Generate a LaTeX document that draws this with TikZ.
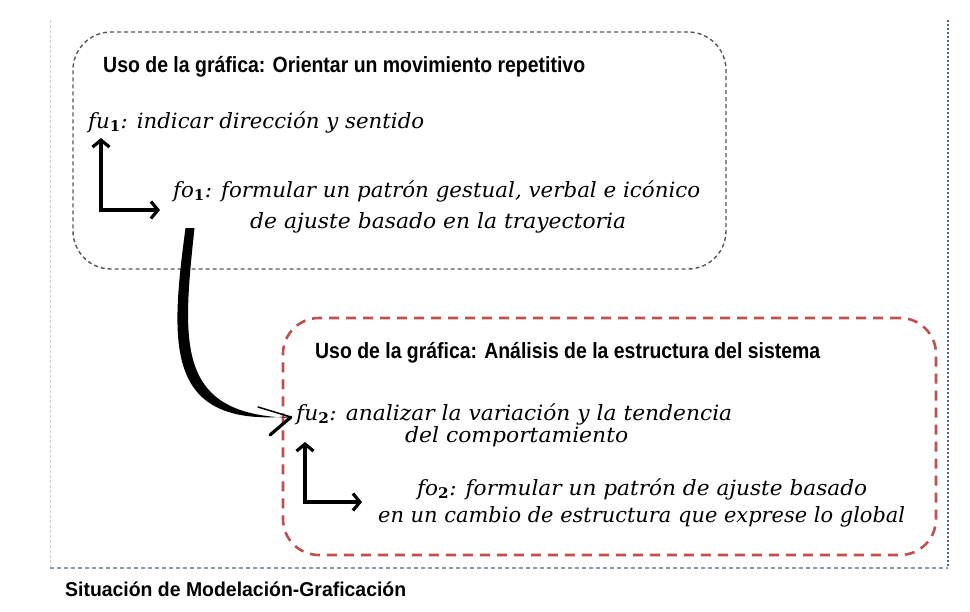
\documentclass[tikz,border=0pt]{standalone}
\usepackage{fontspec}
\setsansfont{Liberation Sans}
\newfontfamily\mfont{DejaVu Serif}
\usepackage{graphicx}
\usetikzlibrary{arrows.meta}
\definecolor{boxred}{RGB}{192,80,77}
\definecolor{boxgrey}{RGB}{85,85,85}
\definecolor{frameblue}{RGB}{70,100,145}
\definecolor{framegrey}{RGB}{140,155,175}
\definecolor{framelight}{RGB}{205,205,205}
\newcommand{\fsub}[1]{\textsubscript{\upshape\bfseries #1}}
\tikzset{
  usebox/.style={draw=boxgrey, line width=1.4pt, dash pattern=on 4pt off 3pt, rounded corners=38pt, minimum width=653pt, minimum height=237pt, inner sep=0pt},
  usebox2/.style={draw=boxred, line width=2.6pt, dash pattern=on 10pt off 7pt, rounded corners=36pt, minimum width=653pt, minimum height=237pt, inner sep=0pt},
  titletext/.style={anchor=base west, inner sep=0pt, font=\sffamily\bfseries\fontsize{22}{26}\selectfont},
  mtext/.style={anchor=base west, inner sep=0pt, font=\mfont\fontsize{21}{25}\selectfont\itshape},
  larrow/.style={line width=3.2pt, -{Straight Barb[length=7pt,width=17pt]}},
}
\begin{document}
\begin{tikzpicture}[x=1pt,y=-1pt]
\useasboundingbox (0,0) rectangle (970,611);
% outer frame
\coordinate (ftl) at (50,20);
\coordinate (fbl) at (50,568);
\coordinate (ftr) at (948,20);
\coordinate (fbr) at (948,568);
\draw[framelight, line width=0.8pt, dash pattern=on 3pt off 2pt] (ftl) -- (fbl);
\draw[frameblue, line width=1.3pt, dash pattern=on 2pt off 2pt] (ftr) -- (fbr);
\draw[framegrey, line width=1.2pt, dash pattern=on 4pt off 3pt] (fbl) -- (fbr);
\node[anchor=base west, inner sep=0pt, font=\sffamily\bfseries\fontsize{20}{24}\selectfont] (sit) at (65,596) {\resizebox{341pt}{\height}{Situación de Modelación-Graficación}};

% box 1
\node[usebox] (box1) at (399.5,150.5) {};
\node[titletext] (t1) at (103,72) {\resizebox{482pt}{\height}{Uso de la gráfica: Orientar un movimiento repetitivo}};
\node[mtext] (fu1) at (88,128) {\resizebox{336pt}{\height}{fu\fsub{1}: indicar dirección y sentido}};
\node[mtext] (fo1a) at (173,197) {\resizebox{527pt}{\height}{fo\fsub{1}: formular un patrón gestual, verbal e icónico}};
\node[mtext] (fo1b) at (250,228) {\resizebox{376pt}{\height}{de ajuste basado en la trayectoria}};
\coordinate (l1c) at (101,210);
\coordinate (l1u) at (101,138);
\coordinate (l1r) at (160,210);
\draw[larrow] ([yshift=-1.6pt]l1c) -- (l1u);
\draw[larrow] (l1c) -- (l1r);

% box 2
\node[usebox2] (box2) at (609.5,436.5) {};
\node[titletext] (t2) at (315,358) {\resizebox{505pt}{\height}{Uso de la gráfica: Análisis de la estructura del sistema}};
\node[mtext] (fu2a) at (296,420) {\resizebox{436pt}{\height}{fu\fsub{2}: analizar la variación y la tendencia}};
\node[mtext] (fu2b) at (405,442) {\resizebox{223pt}{\height}{del comportamiento}};
\node[mtext] (fo2a) at (417,495) {\resizebox{450pt}{\height}{fo\fsub{2}: formular un patrón de ajuste basado}};
\node[mtext] (fo2b) at (378,522) {\resizebox{527pt}{\height}{en un cambio de estructura que exprese lo global}};
\coordinate (l2c) at (305,502);
\coordinate (l2u) at (305,442);
\coordinate (l2r) at (362,502);
\draw[larrow] ([yshift=-1.6pt]l2c) -- (l2u);
\draw[larrow] (l2c) -- (l2r);

% big curved arrow
\coordinate (bs) at (190,228);
\coordinate (bt) at (291,417);
\fill[black] ([xshift=-4.5pt]bs) .. controls (170,345) and (164,428) .. ([yshift=0.8pt]bt)
  -- ([yshift=-0.8pt]bt) .. controls (176,415) and (182,345) .. ([xshift=4.5pt]bs) -- cycle;
\draw[line width=1.5pt, line cap=round] (bt) -- (258,407);
\draw[line width=3.2pt, line cap=round] (bt) -- (270,435);
\end{tikzpicture}
\end{document}
